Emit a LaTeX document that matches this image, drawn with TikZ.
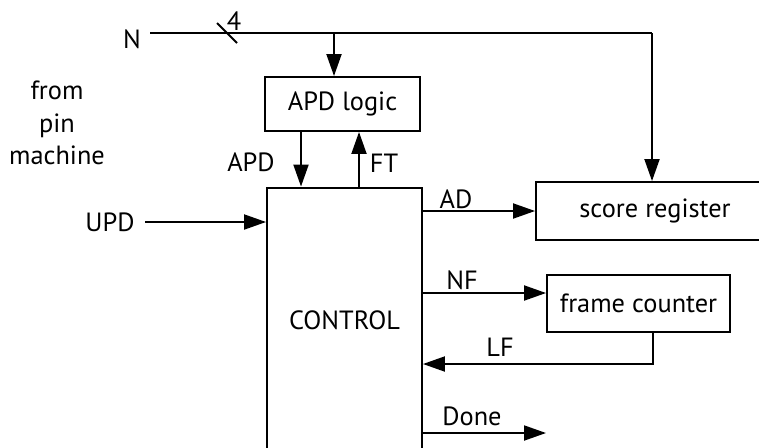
\documentclass[tikz,border=0pt]{standalone}
\usepackage{fontspec}
\setmainfont{PT Sans}
\usetikzlibrary{arrows.meta,positioning,calc}

\begin{document}
\begin{tikzpicture}[
  x=0.02cm, y=-0.02cm,
  font=\fontsize{15}{18.5}\selectfont,
  block/.style={rectangle, draw, line width=1.1pt, inner sep=0pt},
  lbl/.style={inner sep=2pt, align=center},
  arr/.style={-{Triangle[length=0.44cm,width=0.3cm]}, line width=1.1pt},
  wire/.style={line width=1.1pt},
]
\useasboundingbox (0,0) rectangle (759,447);

% Blocks
\node[block, minimum width=3.1cm, minimum height=1.08cm] (apd) at (342.5,104) {APD logic};
\node[block, minimum width=3.1cm, minimum height=5.3cm] (control) at (344.5,320) {CONTROL};
\node[block, minimum width=4.76cm, minimum height=1.16cm] (score) at (655,211) {score register};
\node[block, minimum width=3.66cm, minimum height=1.14cm] (frame) at (638.5,303.5) {frame counter};

% Labels
\node[lbl] (nlbl) at (132,39) {N};
\node[lbl] (buswidth) at (234,21) {4};
\node[lbl] (pinm) at (57,123) {from\\pin\\machine};
\node[lbl] (apdlbl) at (251,162) {APD};
\node[lbl] (ftlbl) at (384,163) {FT};
\node[lbl, inner sep=6pt] (upd) at (110,222) {UPD};
\node[lbl] (adlbl) at (456,199) {AD};
\node[lbl] (nflbl) at (462,280) {NF};
\node[lbl] (lflbl) at (500,347) {LF};
\node[lbl] (donelbl) at (472,416) {Done};

% Helper points
\coordinate (nstart) at (150,33);
\coordinate (nsplit) at (334,33);
\coordinate (ncorner) at (652,33);
\coordinate (apdx) at (301,0);
\coordinate (ftx) at (359,0);
\coordinate (nfy) at (0,293);
\coordinate (lfx) at (653,364);
\coordinate (doneend) at (546,433);

% N bus
\draw[wire] (nstart) -- (ncorner);
\draw[wire] (217,23) -- (237,43);
\draw[arr] (nsplit) -- (nsplit |- apd.north);
\draw[arr] (ncorner) -- (ncorner |- score.north);

% APD logic <-> CONTROL
\draw[arr] (apd.south -| apdx) -- (control.north -| apdx);
\draw[arr] (control.north -| ftx) -- (apd.south -| ftx);

% Inputs and outputs of CONTROL
\draw[arr] (upd.east) -- (upd.east -| control.west);
\draw[arr] (score.west -| control.east) -- (score.west);
\draw[arr] (control.east |- nfy) -- (frame.west |- nfy);
\draw[arr] (frame.south -| lfx) -- (lfx) -- (control.east |- lfx);
\draw[arr] (control.east |- doneend) -- (doneend);

\end{tikzpicture}
\end{document}
